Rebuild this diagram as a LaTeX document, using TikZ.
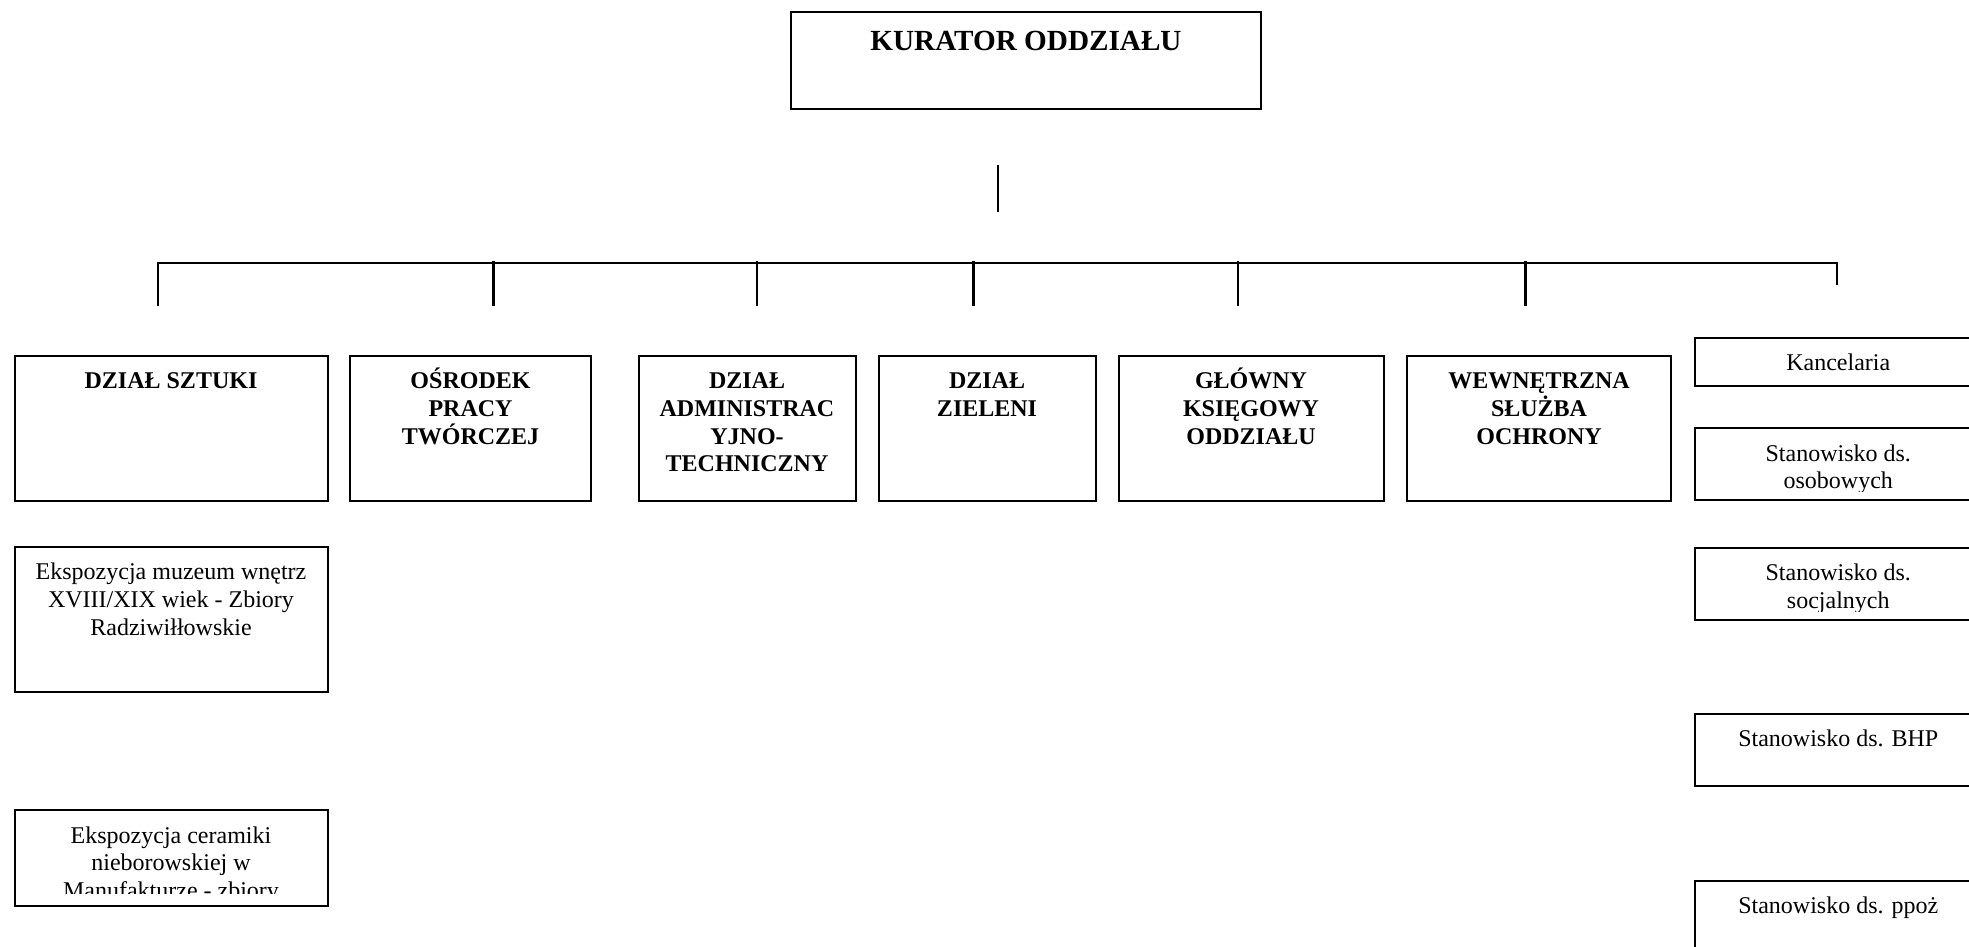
\documentclass[tikz,border=0pt]{standalone}
\usepackage{fontspec}
\setmainfont{Liberation Serif}
\newcommand{\firstl}{\rule{0pt}{16.75pt}}
\begin{document}
\begin{tikzpicture}[x=0.5pt,y=-0.5pt,
  box/.style={draw, line width=1pt, inner sep=0pt, anchor=north west},
  conn/.style={line width=1.1pt},
  txt/.style={anchor=north, inner sep=0pt, align=center, font=\fontsize{12}{13.8}\selectfont},
  btxt/.style={txt, font=\fontsize{12}{13.8}\selectfont\bfseries}]
\useasboundingbox (0,0) rectangle (1969,947);
\clip (0,0) rectangle (1969,947);

% top box
\node[box, minimum width=235pt, minimum height=48.25pt] (kur) at (790,11.5) {};
\node[txt, font=\fontsize{14.6}{16.8}\selectfont\bfseries] (kurt) at (kur.north) {\rule{0pt}{19.5pt}KURATOR ODDZIAŁU};

% connectors
\coordinate (v1) at (998,165);
\coordinate (v2) at (998,212);
\draw[conn] (v1) -- (v2);
\coordinate (b0) at (158,263);
\coordinate (b6) at (1837,263);
\coordinate (d0) at (158,306);
\coordinate (d6) at (1837,285);
\draw[conn] (d0) -- (b0) -- (b6) -- (d6);
\coordinate (t1) at (493.5,261); \coordinate (d1) at (493.5,306);
\coordinate (t2) at (757,261);   \coordinate (d2) at (757,306);
\coordinate (t3) at (973.5,261); \coordinate (d3) at (973.5,306);
\coordinate (t4) at (1238,261);  \coordinate (d4) at (1238,306);
\coordinate (t5) at (1525.5,261);\coordinate (d5) at (1525.5,306);
\foreach \i in {1,...,5} {\draw[conn] (t\i) -- (d\i);}

% main row
\node[box, minimum width=156.5pt, minimum height=72.5pt] (a) at (13.5,355) {};
\node[btxt] (at) at (a.north) {\firstl DZIAŁ SZTUKI};
\node[box, minimum width=120.5pt, minimum height=72.5pt] (b) at (349,355) {};
\node[btxt] (bt) at (b.north) {\firstl OŚRODEK\\PRACY\\TWÓRCZEJ};
\node[box, minimum width=108.5pt, minimum height=72.5pt] (c) at (637.5,355) {};
\node[btxt] (ct) at (c.north) {\firstl DZIAŁ\\ADMINISTRAC\\YJNO-\\TECHNICZNY};
\node[box, minimum width=108.5pt, minimum height=72.5pt] (d) at (877.5,355) {};
\node[btxt] (dt) at (d.north) {\firstl DZIAŁ\\ZIELENI};
\node[box, minimum width=132.5pt, minimum height=72.5pt] (e) at (1117.5,355) {};
\node[btxt] (et) at (e.north) {\firstl GŁÓWNY\\KSIĘGOWY\\ODDZIAŁU};
\node[box, minimum width=132pt, minimum height=72.5pt] (f) at (1406,355) {};
\node[btxt] (ft) at (f.north) {\firstl WEWNĘTRZNA\\SŁUŻBA\\OCHRONY};

% left column
\node[box, minimum width=156.5pt, minimum height=72.25pt] (e1) at (13.5,546) {};
\node[txt] (e1t) at (e1.north) {\firstl Ekspozycja muzeum wnętrz\\XVIII/XIX wiek - Zbiory\\Radziwiłłowskie};
\node[box, minimum width=156.5pt, minimum height=47.85pt] (e2) at (13.5,809.3) {};
\begin{scope}
\clip (e2.north west) rectangle ([yshift=7pt]e2.south east);
\node[txt] (e2t) at (e2.north) {\firstl Ekspozycja ceramiki\\nieborowskiej w\\Manufakturze - zbiory};
\end{scope}

% right column
\node[box, minimum width=143.75pt, minimum height=24.25pt] (r1) at (1693.5,336.5) {};
\node[txt] (r1t) at (r1.north) {\firstl Kancelaria};
\node[box, minimum width=143.75pt, minimum height=35.85pt] (r2) at (1693.5,427.3) {};
\begin{scope}
\clip (r2.north west) rectangle ([yshift=5pt]r2.south east);
\node[txt] (r2t) at (r2.north) {\firstl Stanowisko ds.\\osobowych};
\end{scope}
\node[box, minimum width=143.75pt, minimum height=36.3pt] (r3) at (1693.5,546.7) {};
\begin{scope}
\clip (r3.north west) rectangle ([yshift=5pt]r3.south east);
\node[txt] (r3t) at (r3.north) {\firstl Stanowisko ds.\\socjalnych};
\end{scope}
\node[box, minimum width=143.75pt, minimum height=36pt] (r4) at (1693.5,713) {};
\node[txt] (r4t) at (r4.north) {\firstl Stanowisko ds. BHP};
\node[box, minimum width=143.75pt, minimum height=50pt] (r5) at (1693.5,880) {};
\node[txt] (r5t) at (r5.north) {\firstl Stanowisko ds. ppoż};
\end{tikzpicture}
\end{document}
